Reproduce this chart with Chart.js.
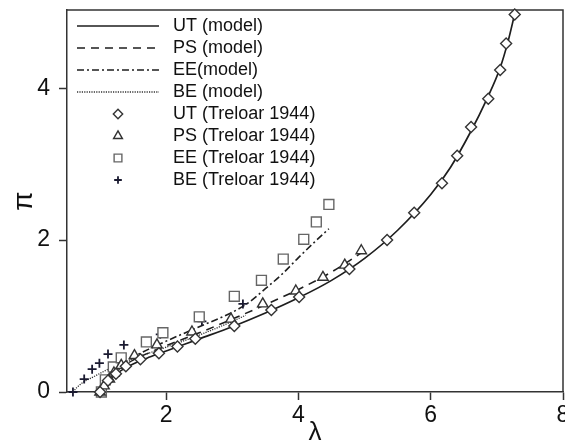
<!DOCTYPE html>
<html><head><meta charset="utf-8">
<script src="https://cdn.jsdelivr.net/npm/chart.js@4/dist/chart.umd.min.js"></script>
<style>html,body{margin:0;padding:0;background:#fff}canvas{display:block}</style>
</head><body>
<canvas id="c" width="565" height="442"></canvas>
<script>
// ---------- data ----------
const utModelX = [1, 1.05, 1.1, 1.2, 1.35, 1.5, 1.75, 2, 2.5, 3, 3.5, 4, 4.5, 5, 5.5, 6, 6.3, 6.6, 6.85, 7.05, 7.17, 7.27];
const utModelY = [0, 0.07, 0.12, 0.21, 0.30, 0.37, 0.46, 0.54, 0.70, 0.86, 1.04, 1.24, 1.47, 1.76, 2.13, 2.60, 2.96, 3.42, 3.86, 4.27, 4.62, 4.98];
const psModelX = [1, 1.05, 1.1, 1.2, 1.35, 1.5, 1.75, 2, 2.5, 3, 3.5, 4, 4.5, 5];
const psModelY = [0, 0.08, 0.14, 0.24, 0.34, 0.42, 0.52, 0.61, 0.78, 0.96, 1.15, 1.35, 1.58, 1.86];
const eeModelX = [1, 1.05, 1.1, 1.2, 1.35, 1.5, 1.75, 2, 2.5, 3, 3.25, 3.5, 3.75, 4, 4.25, 4.46];
const eeModelY = [0, 0.09, 0.16, 0.27, 0.38, 0.46, 0.57, 0.67, 0.86, 1.05, 1.18, 1.36, 1.55, 1.77, 1.98, 2.15];
const beModelX = [0.59, 0.65, 0.75, 0.9, 1.1, 1.3, 1.6, 2, 2.5, 3, 3.2];
const beModelY = [0, 0.06, 0.13, 0.2, 0.29, 0.37, 0.47, 0.59, 0.75, 0.93, 1.01];

const utDataX = [1.0, 1.12, 1.24, 1.39, 1.61, 1.89, 2.17, 2.44, 3.03, 3.59, 4.01, 4.77, 5.34, 5.75, 6.17, 6.40, 6.61, 6.87, 7.05, 7.14, 7.27];
const utDataY = [0, 0.15, 0.24, 0.34, 0.43, 0.51, 0.60, 0.70, 0.87, 1.08, 1.25, 1.62, 2.00, 2.36, 2.75, 3.11, 3.49, 3.86, 4.24, 4.59, 4.97];
const psDataX = [1.0, 1.06, 1.14, 1.21, 1.32, 1.52, 1.86, 2.39, 2.98, 3.46, 3.96, 4.37, 4.70, 4.95];
const psDataY = [0, 0.08, 0.17, 0.25, 0.35, 0.48, 0.62, 0.79, 0.96, 1.16, 1.33, 1.51, 1.67, 1.86];
const eeDataX = [1.02, 1.08, 1.20, 1.32, 1.70, 1.95, 2.50, 3.03, 3.44, 3.77, 4.08, 4.27, 4.46];
const eeDataY = [0, 0.16, 0.33, 0.45, 0.66, 0.78, 0.99, 1.26, 1.47, 1.75, 2.01, 2.24, 2.47];
const beDataX = [0.59, 0.76, 0.88, 0.99, 1.12, 1.36, 1.91, 2.54, 3.16];
const beDataY = [0, 0.17, 0.30, 0.38, 0.50, 0.62, 0.76, 0.93, 1.16];

const seriesLabels = ['UT (model)', 'PS (model)', 'EE(model)', 'BE (model)',
  'UT (Treloar 1944)', 'PS (Treloar 1944)', 'EE (Treloar 1944)', 'BE (Treloar 1944)'];
const xTicks = [2, 4, 6, 8];
const yTicks = [0, 2, 4];
const xTitle = 'λ';
const yTitle = 'π';

// ---------- helpers ----------
const FONT = '"Liberation Sans", Arial, sans-serif';
const INK = '#1e1e1e';
function pts(xs, ys) { return xs.map((x, i) => ({x: x, y: ys[i]})); }

const lineStyles = [
  {dash: [], width: 1.7, color: INK},
  {dash: [8, 6], width: 1.6, color: INK},
  {dash: [7, 3, 2, 3], width: 1.6, color: INK},
  {dash: [1.2, 1.2], width: 1.3, color: '#333'}
];
const markerStyles = [
  {style: 'rectRot', r: 5.5, bw: 1.4, color: '#333', bg: '#fff'},
  {style: 'triangle', r: 6, bw: 1.4, color: '#333', bg: '#fff'},
  {style: 'rect', r: 7, bw: 1.4, color: '#666', bg: '#fff'},
  {style: 'cross', r: 4.5, bw: 1.8, color: '#1a1a30', bg: '#fff'}
];

const modelSets = [[utModelX, utModelY], [psModelX, psModelY], [eeModelX, eeModelY], [beModelX, beModelY]];
const dataSets = [[utDataX, utDataY], [psDataX, psDataY], [eeDataX, eeDataY], [beDataX, beDataY]];

const datasets = [];
modelSets.forEach((m, i) => {
  const s = lineStyles[i];
  datasets.push({
    label: seriesLabels[i], data: pts(m[0], m[1]), showLine: true,
    pointRadius: 0, pointHoverRadius: 0, borderColor: s.color, borderWidth: s.width,
    borderDash: s.dash, cubicInterpolationMode: 'monotone', fill: false, order: 1
  });
});
dataSets.forEach((d, i) => {
  const s = markerStyles[i];
  datasets.push({
    label: seriesLabels[4 + i], data: pts(d[0], d[1]), showLine: false,
    pointStyle: s.style, pointRadius: s.r, pointHoverRadius: s.r, pointBorderWidth: s.bw,
    pointBorderColor: s.color, pointBackgroundColor: s.bg, borderColor: s.color,
    backgroundColor: s.bg, order: 0, clip: false
  });
});

// legend icons (canvas images used as point styles of the legend)
const ICON_W = 93, ICON_H = 16;
function makeIcon(i) {
  const cv = document.createElement('canvas');
  cv.width = ICON_W; cv.height = ICON_H;
  const ctx = cv.getContext('2d');
  const cy = ICON_H / 2;
  if (i < 4) {
    const s = lineStyles[i];
    ctx.strokeStyle = s.color; ctx.lineWidth = s.width; ctx.setLineDash(s.dash);
    ctx.beginPath(); ctx.moveTo(6, cy); ctx.lineTo(88, cy); ctx.stroke();
  } else {
    const s = markerStyles[i - 4];
    ctx.strokeStyle = s.color; ctx.fillStyle = s.bg; ctx.lineWidth = s.bw;
    const r = s.style === 'rect' ? 5.5 : s.r * 0.85;
    Chart.helpers.drawPoint(ctx, {pointStyle: s.style, radius: r, borderWidth: s.bw, rotation: 0}, 47, cy);
  }
  return cv;
}
const icons = seriesLabels.map((_, i) => makeIcon(i));

const framePlugin = {
  id: 'frame',
  beforeDatasetsDraw(chart) {
    const a = chart.chartArea, ctx = chart.ctx;
    ctx.save();
    ctx.strokeStyle = '#333'; ctx.lineWidth = 1.5;
    ctx.beginPath();
    ctx.moveTo(a.left, a.top); ctx.lineTo(a.right, a.top); ctx.lineTo(a.right, a.bottom);
    ctx.stroke();
    ctx.restore();
  }
};

new Chart(document.getElementById('c'), {
  type: 'scatter',
  data: {datasets: datasets},
  plugins: [framePlugin],
  options: {
    responsive: false, animation: false, devicePixelRatio: 1,
    layout: {autoPadding: false, padding: {top: 10, right: 2, left: 0, bottom: 0}},
    plugins: {
      tooltip: {enabled: false},
      legend: {
        position: 'chartArea', align: 'start',
        title: {display: true, text: '', padding: {top: 0, bottom: 1}, font: {size: 10, family: FONT}},
        labels: {
          usePointStyle: true, pointStyleWidth: ICON_W, padding: 4, color: '#111',
          font: {family: FONT, size: 18},
          generateLabels: (chart) => chart.data.datasets.map((ds, i) => ({
            text: ds.label, pointStyle: icons[i], datasetIndex: i, hidden: false,
            lineWidth: 0, fillStyle: '#fff', strokeStyle: '#fff', fontColor: '#111'
          }))
        }
      }
    },
    scales: {
      x: {
        type: 'linear', position: 'bottom', min: 0.5, max: 8,
        afterBuildTicks: (s) => { s.ticks = xTicks.map(v => ({value: v})); },
        afterFit: (s) => { s.height = 50; s.paddingLeft = 0; s.paddingRight = 0; },
        grid: {display: true, drawOnChartArea: false, drawTicks: true, tickLength: 8, tickWidth: 1.5, tickColor: '#333'},
        border: {display: true, color: '#333', width: 1.5},
        ticks: {color: '#111', padding: 2, maxRotation: 0, font: {family: FONT, size: 23}},
        title: {display: true, text: xTitle, color: '#111', font: {family: FONT, size: 26, lineHeight: 0.7}, padding: {top: 0, bottom: 0}}
      },
      y: {
        type: 'linear', position: 'left', min: 0, max: 5.03,
        afterBuildTicks: (s) => { s.ticks = yTicks.map(v => ({value: v})); },
        afterFit: (s) => { s.width = 67; s.paddingTop = 0; s.paddingBottom = 0; },
        grid: {display: true, drawOnChartArea: false, drawTicks: true, tickLength: 8, tickWidth: 1.5, tickColor: '#333'},
        border: {display: true, color: '#333', width: 1.5},
        ticks: {color: '#111', padding: 9, font: {family: FONT, size: 23}},
        title: {display: true, text: yTitle, color: '#111', font: {family: FONT, size: 28, lineHeight: 1.2}, padding: {top: 7.2, bottom: 0}}
      }
    }
  }
});
</script>
</body></html>
